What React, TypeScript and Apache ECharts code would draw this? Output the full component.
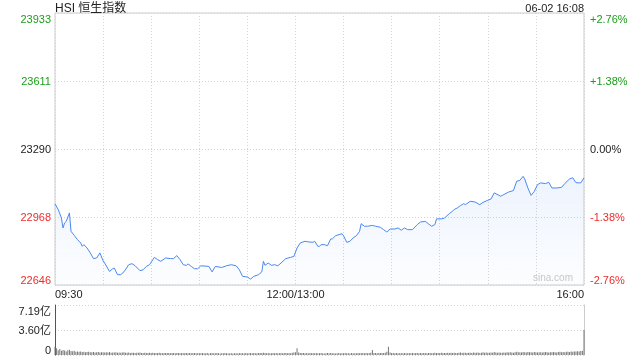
import React, { useEffect, useRef } from "react";
import * as echarts from "echarts";

const TITLE = "HSI 恒生指数";
const DATE_TEXT = "06-02 16:08";
const WATERMARK = "sina.com";
const PRICE_MIN = 22646;
const PRICE_MAX = 23933;
const PCT_MAX = 2.76;
const VOL_MAX = 7.192;
const X_LABELS: Record<number, string> = { 0: "09:30", 150: "12:00/13:00", 330: "16:00" };

const times = [
  "09:30", "09:32", "09:34", "09:35", "09:36", "09:37", "09:39", "09:40", "09:42", "09:44",
  "09:46", "09:47", "09:48", "09:50", "09:52", "09:54", "09:56", "09:58", "10:00", "10:01",
  "10:04", "10:06", "10:07", "10:09", "10:11", "10:13", "10:16", "10:18", "10:20", "10:23",
  "10:25", "10:27", "10:29", "10:32", "10:34", "10:36", "10:39", "10:42", "10:44", "10:46",
  "10:48", "10:50", "10:52", "10:53", "10:55", "10:57", "10:59", "11:01", "11:06", "11:08",
  "11:10", "11:14", "11:17", "11:20", "11:23", "11:25", "11:27", "11:30", "11:32", "11:34",
  "11:37", "11:39", "11:40", "11:41", "11:43", "11:45", "11:47", "11:49", "11:51", "11:54",
  "11:57", "11:59", "13:01", "13:03", "13:06", "13:08", "13:11", "13:12", "13:14", "13:15",
  "13:16", "13:18", "13:20", "13:22", "13:23", "13:25", "13:29", "13:30", "13:32", "13:34",
  "13:36", "13:38", "13:40", "13:41", "13:43", "13:45", "13:48", "13:50", "13:53", "13:55",
  "13:57", "13:59", "14:02", "14:04", "14:06", "14:08", "14:10", "14:13", "14:16", "14:18",
  "14:21", "14:23", "14:25", "14:27", "14:28", "14:31", "14:33", "14:36", "14:38", "14:39",
  "14:41", "14:43", "14:45", "14:46", "14:49", "14:52", "14:55", "14:57", "15:00", "15:02",
  "15:04", "15:08", "15:10", "15:13", "15:16", "15:18", "15:20", "15:22", "15:23", "15:25",
  "15:27", "15:29", "15:31", "15:33", "15:36", "15:38", "15:40", "15:43", "15:46", "15:48",
  "15:51", "15:53", "15:55", "15:58", "16:00",
];

const prices = [
  23030, 23003, 22963, 22916, 22940, 22947, 22987, 22900, 22881, 22861,
  22845, 22829, 22837, 22821, 22798, 22771, 22774, 22798, 22761, 22750,
  22710, 22723, 22726, 22695, 22695, 22708, 22742, 22747, 22737, 22714,
  22718, 22734, 22742, 22777, 22766, 22758, 22774, 22771, 22771, 22785,
  22766, 22742, 22739, 22746, 22734, 22723, 22723, 22737, 22734, 22708,
  22734, 22729, 22737, 22742, 22737, 22718, 22687, 22684, 22674, 22687,
  22695, 22708, 22758, 22739, 22750, 22739, 22742, 22737, 22750, 22771,
  22777, 22781, 22821, 22845, 22853, 22850, 22848, 22853, 22829, 22829,
  22837, 22837, 22832, 22864, 22864, 22879, 22889, 22879, 22848, 22853,
  22869, 22879, 22900, 22936, 22924, 22924, 22928, 22924, 22919, 22908,
  22897, 22911, 22911, 22916, 22905, 22916, 22908, 22908, 22932, 22944,
  22947, 22935, 22924, 22932, 22959, 22959, 22963, 22984, 22995, 23003,
  23011, 23022, 23031, 23026, 23042, 23039, 23026, 23037, 23047, 23053,
  23082, 23066, 23074, 23086, 23093, 23137, 23141, 23160, 23148, 23105,
  23070, 23089, 23121, 23129, 23126, 23132, 23105, 23105, 23108, 23126,
  23148, 23153, 23130, 23129, 23153,
];

// volume per minute (亿), 09:30 .. 16:00
const volumes = [
  1.20, 0.98, 0.70, 0.85, 0.62, 0.72, 0.66, 0.52, 0.70, 0.75,
  0.58, 0.55, 0.62, 0.48, 0.52, 0.45, 0.50, 0.44, 0.47, 0.40,
  0.42, 0.46, 0.38, 0.41, 0.44, 0.36, 0.40, 0.43, 0.37, 0.39,
  0.41, 0.35, 0.38, 0.36, 0.42, 0.33, 0.37, 0.35, 0.40, 0.34,
  0.36, 0.32, 0.35, 0.38, 0.31, 0.33, 0.36, 0.30, 0.34, 0.32,
  0.29, 0.33, 0.31, 0.35, 0.30, 0.28, 0.32, 0.30, 0.27, 0.31,
  0.29, 0.33, 0.28, 0.30, 0.27, 0.31, 0.29, 0.26, 0.30, 0.28,
  0.27, 0.29, 0.25, 0.30, 0.28, 0.26, 0.29, 0.27, 0.25, 0.28,
  0.26, 0.30, 0.27, 0.25, 0.28, 0.24, 0.27, 0.29, 0.26, 0.25,
  0.27, 0.24, 0.28, 0.26, 0.25, 0.27, 0.23, 0.26, 0.28, 0.25,
  0.24, 0.27, 0.25, 0.23, 0.26, 0.24, 0.27, 0.25, 0.23, 0.26,
  0.24, 0.22, 0.26, 0.25, 0.23, 0.27, 0.24, 0.26, 0.25, 0.28,
  0.26, 0.24, 0.27, 0.25, 0.29, 0.26, 0.24, 0.27, 0.30, 0.28,
  0.32, 0.27, 0.25, 0.28, 0.26, 0.24, 0.27, 0.25, 0.29, 0.26,
  0.25, 0.28, 0.26, 0.30, 0.27, 0.25, 0.28, 0.26, 0.31, 0.35,
  0.40, 0.98, 0.35, 0.30, 0.27, 0.29, 0.26, 0.28, 0.25, 0.27,
  0.24, 0.27, 0.25, 0.28, 0.26, 0.24, 0.27, 0.25, 0.23, 0.26,
  0.28, 0.25, 0.27, 0.24, 0.26, 0.23, 0.25, 0.27, 0.24, 0.26,
  0.25, 0.28, 0.24, 0.26, 0.23, 0.27, 0.25, 0.24, 0.26, 0.28,
  0.26, 0.30, 0.27, 0.25, 0.28, 0.26, 0.30, 0.33, 0.72, 0.30,
  0.28, 0.26, 0.29, 0.27, 0.30, 0.28, 0.32, 0.45, 1.20, 0.35,
  0.30, 0.27, 0.25, 0.28, 0.26, 0.24, 0.27, 0.25, 0.28, 0.26,
  0.24, 0.27, 0.25, 0.28, 0.26, 0.29, 0.27, 0.25, 0.28, 0.26,
  0.29, 0.27, 0.25, 0.30, 0.28, 0.26, 0.29, 0.31, 0.27, 0.30,
  0.28, 0.32, 0.29, 0.27, 0.30, 0.33, 0.29, 0.31, 0.28, 0.34,
  0.30, 0.28, 0.32, 0.35, 0.30, 0.33, 0.31, 0.29, 0.34, 0.32,
  0.30, 0.36, 0.33, 0.31, 0.35, 0.30, 0.34, 0.38, 0.32, 0.35,
  0.33, 0.31, 0.36, 0.34, 0.42, 0.35, 0.33, 0.37, 0.34, 0.32,
  0.36, 0.33, 0.38, 0.35, 0.40, 0.37, 0.34, 0.39, 0.45, 0.38,
  0.41, 0.37, 0.44, 0.39, 0.36, 0.42, 0.38, 0.40, 0.37, 0.43,
  0.39, 0.36, 0.41, 0.38, 0.35, 0.40, 0.42, 0.38, 0.36, 0.41,
  0.39, 0.43, 0.40, 0.37, 0.42, 0.45, 0.41, 0.44, 0.40, 0.46,
  0.48, 0.44, 0.50, 0.46, 0.52, 0.49, 0.55, 0.51, 0.58, 0.62,
  3.596,
];

const FONT = 'Arial, "Liberation Sans", "Noto Sans CJK SC", sans-serif';
const GREEN = "#1a9e1a";
const RED = "#f02b2b";
const DARK = "#222";
const LINE = "#4a88f0";

function toIndex(t: string): number {
  const [h, m] = t.split(":").map(Number);
  const mins = h * 60 + m;
  return mins < 780 ? mins - 570 : mins - 780 + 150;
}

function levelColor(index: number) {
  return index > 2 ? GREEN : index < 2 ? RED : DARK;
}

export default function App() {
  const ref = useRef<HTMLDivElement>(null);
  useEffect(() => {
    if (!ref.current) return;
    document.body.style.margin = "0";
    const chart = echarts.init(ref.current, null, { renderer: "svg" });
    const dotted = { color: "#d4d4d4", type: [1, 2] as any, width: 1 };
    chart.setOption({
      animation: false,
      textStyle: { fontFamily: FONT },
      title: [
        {
          text: TITLE, left: 55, top: 0, padding: 0,
          textStyle: { fontSize: 12, fontWeight: "normal", color: DARK, fontFamily: FONT, lineHeight: 15 },
        },
        {
          text: DATE_TEXT, right: 56, top: 1, padding: 0,
          textStyle: { fontSize: 11, fontWeight: "normal", color: DARK, fontFamily: FONT, lineHeight: 13 },
        },
      ],
      grid: [
        { left: 55, right: 56, top: 13, height: 272, show: true, borderColor: "#ccc", borderWidth: 1 },
        { left: 55, right: 56, top: 305, height: 50 },
      ],
      xAxis: [
        {
          type: "value", gridIndex: 0, min: 0, max: 330, interval: 30,
          axisLine: { show: false }, axisTick: { show: false },
          splitLine: { show: true, lineStyle: dotted },
          axisLabel: {
            margin: 3, fontSize: 11, color: DARK, fontFamily: FONT,
            showMinLabel: true, showMaxLabel: true,
            alignMinLabel: "left", alignMaxLabel: "right",
            formatter: (v: number) => X_LABELS[v] ?? "",
          },
        },
        {
          type: "value", gridIndex: 1, min: 0, max: 330, interval: 30,
          axisLine: { show: false }, axisTick: { show: false },
          splitLine: { show: false }, axisLabel: { show: false },
        },
      ],
      yAxis: [
        {
          type: "value", gridIndex: 0, position: "left",
          min: PRICE_MIN, max: PRICE_MAX, interval: (PRICE_MAX - PRICE_MIN) / 4,
          axisLine: { show: false }, axisTick: { show: false },
          splitLine: { show: true, lineStyle: dotted },
          axisLabel: {
            margin: 4, fontSize: 11, fontFamily: FONT,
            verticalAlignMinLabel: "bottom", verticalAlignMaxLabel: "top",
            formatter: (v: number) => String(Math.round(v)),
            color: (_v: any, i: number) => levelColor(i),
          },
        },
        {
          type: "value", gridIndex: 0, position: "right",
          min: -PCT_MAX, max: PCT_MAX, interval: PCT_MAX / 2,
          axisLine: { show: false }, axisTick: { show: false },
          splitLine: { show: false },
          axisLabel: {
            margin: 6, fontSize: 11, fontFamily: FONT,
            verticalAlignMinLabel: "bottom", verticalAlignMaxLabel: "top",
            formatter: (v: number) => {
              if (Math.abs(v) < 0.005) return "0.00%";
              return (v > 0 ? "+" : "") + v.toFixed(2) + "%";
            },
            color: (_v: any, i: number) => levelColor(i),
          },
        },
        {
          type: "value", gridIndex: 1, position: "left",
          min: 0, max: VOL_MAX, interval: VOL_MAX / 2,
          axisLine: { show: true, lineStyle: { color: "#555", width: 1 } },
          axisTick: { show: false },
          splitLine: { show: true, lineStyle: dotted },
          axisLabel: {
            margin: 4, fontSize: 11, fontFamily: FONT, color: DARK,
            verticalAlignMinLabel: "bottom", verticalAlignMaxLabel: "top",
            formatter: (v: number) => (v === 0 ? "0" : v.toFixed(2) + "亿"),
          },
        },
        {
          type: "value", gridIndex: 1, position: "right",
          min: 0, max: VOL_MAX, interval: VOL_MAX / 2,
          axisLine: { show: true, lineStyle: { color: "#ccc", width: 1 } },
          axisTick: { show: false }, splitLine: { show: false }, axisLabel: { show: false },
        },
      ],
      series: [
        {
          type: "line", xAxisIndex: 0, yAxisIndex: 0,
          data: times.map((t, i) => [toIndex(t), prices[i]]),
          symbol: "none", silent: true,
          lineStyle: { color: LINE, width: 1 },
          areaStyle: {
            origin: "start",
            color: new echarts.graphic.LinearGradient(0, 0, 0, 1, [
              { offset: 0, color: "rgba(74,136,240,0.14)" },
              { offset: 1, color: "rgba(74,136,240,0.02)" },
            ]),
          },
        },
        {
          type: "bar", xAxisIndex: 1, yAxisIndex: 2,
          data: volumes.map((v, i) => [i, v]),
          barWidth: 1, silent: true,
          itemStyle: { color: "#777" },
        },
      ],
      graphic: [
        {
          type: "text", right: 67, top: 272,
          style: { text: WATERMARK, fontSize: 10, fill: "#c8c8c8", fontFamily: FONT },
        },
      ],
    });
    return () => chart.dispose();
  }, []);
  return (
    <div
      ref={ref}
      style={{ position: "fixed", left: 0, top: 0, width: 640, height: 360 }}
    />
  );
}
